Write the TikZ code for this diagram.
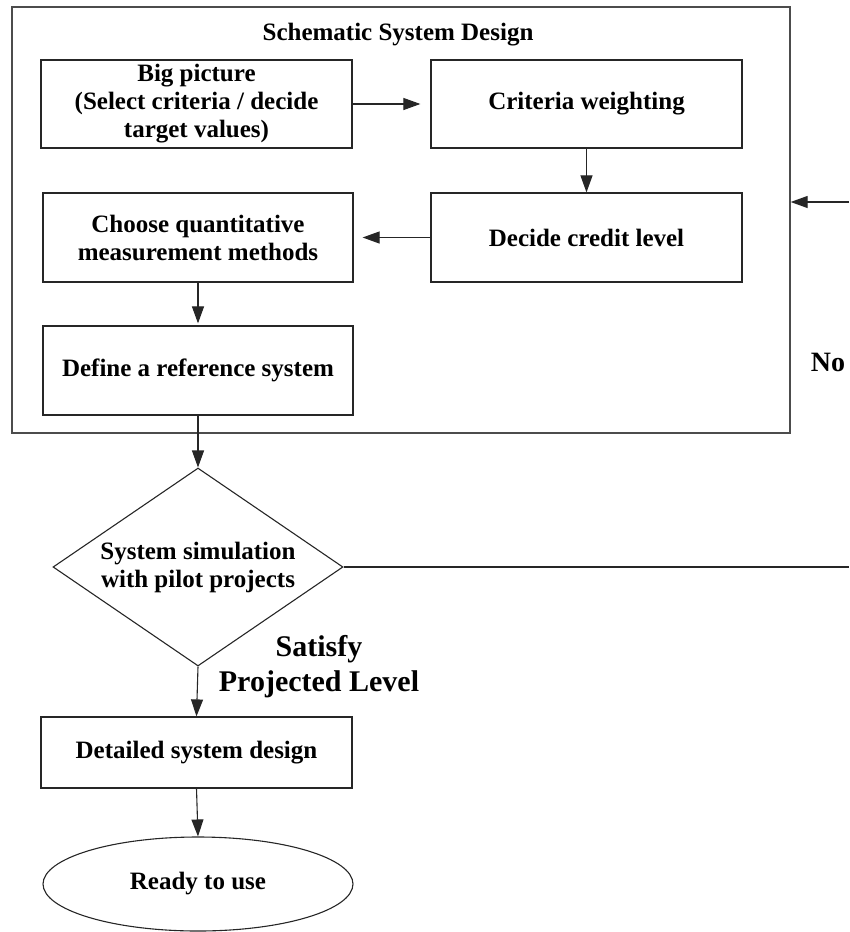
\documentclass[tikz,border=0pt]{standalone}
\usepackage{fontspec}
\setmainfont{Liberation Serif}
\usetikzlibrary{shapes.geometric,arrows.meta}
\begin{document}
\begin{tikzpicture}[x=1pt,y=-1pt,
  txt/.style={align=center,inner sep=0pt,font=\fontsize{25}{28}\selectfont\bfseries},
  box/.style={txt,draw=black!85,line width=1.2pt},
  outerbox/.style={draw=black!70,line width=1.3pt,inner sep=0pt},
  arr/.style={-{Triangle[length=17pt,width=12pt]},line width=1.1pt,draw=black!85},
  ln/.style={line width=1.1pt,draw=black!85}]
\useasboundingbox (0,0) rectangle (849,932);
\node[outerbox,minimum width=778pt,minimum height=426pt] (outer) at (401,220) {};
\node[txt] (title) at (398,35) {Schematic System Design};
\node[box,minimum width=311pt,minimum height=88pt] (big) at (196.5,104) {Big picture\\(Select criteria / decide\\target values)};
\node[box,minimum width=311pt,minimum height=88pt] (crit) at (586.5,104) {Criteria weighting};
\node[box,minimum width=311pt,minimum height=89pt] (credit) at (586.5,237.5) {Decide credit level};
\node[box,minimum width=310pt,minimum height=89pt] (choose) at (198,237.5) {Choose quantitative\\measurement methods};
\node[box,minimum width=310pt,minimum height=89pt] (define) at (198,370.5) {Define a reference system};
\node[txt,draw=black!85,line width=1.1pt,shape=diamond,minimum width=290pt,minimum height=198pt,aspect=1.465] (sim) at (198,567) {System simulation\\with pilot projects};
\node[box,minimum width=311pt,minimum height=71pt] (detail) at (196.5,752.5) {Detailed system design};
\node[txt,draw=black!85,line width=1.1pt,shape=ellipse,minimum width=310pt,minimum height=94pt] (ready) at (198,884) {Ready to use};
\node[align=center,inner sep=0pt,font=\fontsize{30}{35}\selectfont\bfseries] (sat) at (319,667) {Satisfy\\Projected Level};
\node[inner sep=0pt,font=\fontsize{28}{30}\selectfont\bfseries] (no) at (828,362) {No};
\coordinate (fbR) at (849,567);
\coordinate (fbT) at (849,202);
\draw[arr,shorten >=10pt] (big.east) -- (crit.west);
\draw[arr] (crit.south) -- (credit.north);
\draw[arr,shorten >=9pt] (credit.west) -- (choose.east);
\draw[arr,shorten >=2pt] (choose.south) -- (define.north);
\draw[arr] (define.south) -- (sim.north);
\draw[arr] (sim.south) -- (detail.north);
\draw[arr] (detail.south) -- (ready.north);
\draw[ln] (sim.east) -- (fbR);
\draw[arr] (fbT) -- (fbT -| outer.east);
\end{tikzpicture}
\end{document}
